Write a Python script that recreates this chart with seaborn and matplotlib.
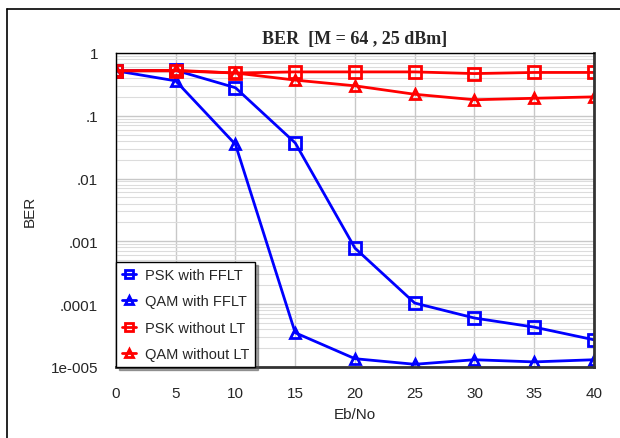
import numpy as np
import pandas as pd
import seaborn as sns
import matplotlib.pyplot as plt
from matplotlib.lines import Line2D
from matplotlib.ticker import LogLocator, FixedLocator, FixedFormatter, NullFormatter

# data
ebno = [0, 5, 10, 15, 20, 25, 30, 35, 40]
psk_fflt = [0.52, 0.53, 0.28, 0.037, 0.00078, 0.000104, 0.00006, 0.000043, 0.000027]
qam_fflt = [0.52, 0.36, 0.035, 0.000035, 0.0000135, 0.000011, 0.000013, 0.000012, 0.000013]
psk_nolt = [0.52, 0.52, 0.48, 0.50, 0.50, 0.50, 0.47, 0.49, 0.49]
qam_nolt = [0.52, 0.53, 0.48, 0.37, 0.30, 0.22, 0.18, 0.19, 0.20]

series = ["PSK with FFLT", "QAM with FFLT", "PSK without LT", "QAM without LT"]
colors = ["#0000ff", "#0000ff", "#ff0000", "#ff0000"]
markers = ["s", "^", "s", "^"]
yticks = [1e-5, 1e-4, 1e-3, 1e-2, 1e-1, 1]
ytick_labels = ["1e-005", ".0001", ".001", ".01", ".1", "1"]

df = pd.DataFrame({"Eb/No": ebno * 4,
                   "BER": psk_fflt + qam_fflt + psk_nolt + qam_nolt,
                   "series": np.repeat(series, len(ebno))})

sns.set_style("white")
plt.rcParams["font.family"] = ["Liberation Sans", "DejaVu Sans"]

fig = plt.figure(figsize=(6.2, 4.39), dpi=100)
ax = fig.add_axes([0.187, 0.162, 0.771, 0.715])

# outer frame of the picture (only top and left edges are visible)
fx, fy = 6.5 / 620, 1 - 9.5 / 439
fig.lines.append(Line2D([fx, 1.0], [fy, fy], transform=fig.transFigure, color="black", linewidth=1.2))
fig.lines.append(Line2D([fx, fx], [0, fy], transform=fig.transFigure, color="black", linewidth=1.2))

for name, c, m in zip(series, colors, markers):
    sub = df[df["series"] == name]
    sns.lineplot(data=sub, x="Eb/No", y="BER", ax=ax, color=c, marker=m, label=name,
                 linewidth=2, markersize=8 if m == "s" else 7.5,
                 markerfacecolor="none", markeredgecolor=c, markeredgewidth=2)

ax.set_yscale("log")
ax.set_ylim(1e-5, 1)
ax.set_xlim(0, 40)
ax.set_xticks(ebno)
ax.yaxis.set_major_locator(FixedLocator(yticks))
ax.yaxis.set_major_formatter(FixedFormatter(ytick_labels))
ax.yaxis.set_minor_locator(LogLocator(base=10, subs=np.arange(2, 10)))
ax.yaxis.set_minor_formatter(NullFormatter())
ax.tick_params(axis="both", which="both", length=0, labelsize=11)
ax.tick_params(axis="y", pad=13)
ax.tick_params(axis="x", pad=14)
ax.grid(True, which="major", color="#c8c8c8", linewidth=1)
ax.grid(True, which="minor", axis="y", color="#dcdcdc", linewidth=0.8)
ax.set_axisbelow(True)

for s in ["left", "top"]:
    ax.spines[s].set_color("black")
    ax.spines[s].set_linewidth(1)
for s in ["right", "bottom"]:
    ax.spines[s].set_color("#333333")
    ax.spines[s].set_linewidth(2)

ax.set_xlabel("Eb/No", fontsize=11, labelpad=5)
ax.set_ylabel("BER", fontsize=11, labelpad=10)
ax.set_title("BER  [M = 64 , 25 dBm]", fontsize=13, fontweight="bold",
             family="Liberation Serif", pad=7)

leg = ax.legend(loc="lower left", bbox_to_anchor=(0, 0), borderaxespad=0, fontsize=10.5,
                frameon=True, fancybox=False, shadow=True, edgecolor="black", markerscale=0.75,
                handlelength=1.0, handletextpad=0.6, labelspacing=0.85, borderpad=0.4)
leg.get_frame().set_linewidth(1)
leg.get_frame().set_alpha(1)

fig.savefig("out.png", dpi=100)
